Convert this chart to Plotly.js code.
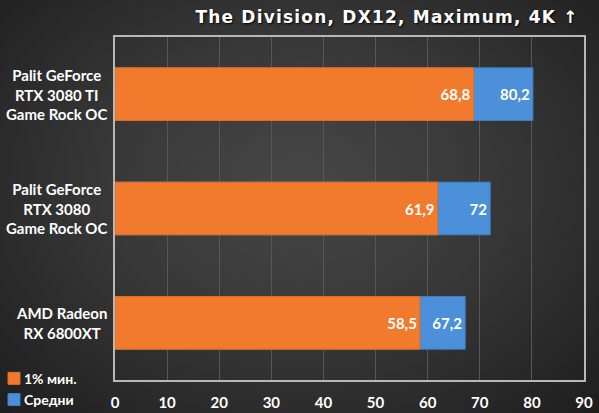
<!DOCTYPE html>
<html>
<head>
<meta charset="utf-8">
<script src="https://cdn.plot.ly/plotly-3.0.1.min.js"></script>
<style>
  html, body { margin: 0; padding: 0; }
  #chart {
    width: 599px; height: 413px;
    background: radial-gradient(ellipse at 50% 45%, #474747 0%, #383838 45%, #1e1e1e 100%);
  }
  #chart .gtitle { letter-spacing: 1.2px; }
  #chart .legend .legendtext { transform: translate(-16px, 4px); }
  #chart .legend .legendsymbols { transform: translate(-6px, 4px); }
</style>
</head>
<body>
<div id="chart"></div>
<script>
const categories = ['Palit GeForce<br>RTX 3080 TI<br>Game Rock OC', 'Palit GeForce<br>RTX 3080<br>Game Rock OC', 'AMD Radeon<br>RX 6800XT'];
const minValues = [68.8, 61.9, 58.5];
const avgValues = [80.2, 72, 67.2];
const seriesNames = ['1% мин.', 'Средни'];
const xTicks = [0, 10, 20, 30, 40, 50, 60, 70, 80, 90];
const chartTitle = 'The Division, DX12, Maximum, 4K ↑';

const fmt = v => String(v).replace('.', ',');
const fam = 'Lato, "Open Sans", sans-serif';
const labelFont = { family: fam, size: 15, color: '#ffffff', weight: 'bold' };

const traces = [
  {
    type: 'bar', orientation: 'h', name: seriesNames[1],
    y: categories, x: avgValues,
    text: avgValues.map(fmt), textposition: 'inside', insidetextanchor: 'end',
    textfont: labelFont,
    marker: { color: '#4b90d8', line: { color: '#3f7fc4', width: 1 } },
    width: 0.46, hoverinfo: 'none'
  },
  {
    type: 'bar', orientation: 'h', name: seriesNames[0],
    y: categories, x: minValues,
    text: minValues.map(fmt), textposition: 'inside', insidetextanchor: 'end',
    textfont: labelFont,
    marker: { color: '#f17a2c', line: { color: '#e06d20', width: 1 } },
    width: 0.46, hoverinfo: 'none'
  }
];

const annotations = categories.map(c => ({
  xref: 'paper', yref: 'y', x: -0.013, y: c, xanchor: 'right', yanchor: 'middle',
  text: c, showarrow: false, align: 'center',
  font: { family: fam, size: 15, color: '#ffffff', weight: 'bold' }
}));

const layout = {
  width: 599, height: 413,
  paper_bgcolor: 'rgba(0,0,0,0)', plot_bgcolor: 'rgba(0,0,0,0)',
  margin: { l: 115, r: 15, t: 37, b: 33 },
  barmode: 'overlay',
  title: {
    text: '<b>' + chartTitle + '</b>',
    x: 0.966, xanchor: 'right', xref: 'container',
    y: 0.958, yanchor: 'middle', yref: 'container',
    font: { family: '"DejaVu Sans", Verdana, sans-serif', size: 17, color: '#ffffff', shadow: '1px 1px 2px #000000' }
  },
  xaxis: {
    range: [0, 90], tickvals: xTicks, ticktext: xTicks.map(String),
    showgrid: true, gridcolor: '#575757', gridwidth: 1,
    zeroline: false, showline: true, mirror: true, linecolor: '#b8b8b8', linewidth: 2,
    ticks: 'outside', ticklen: 8, tickcolor: 'rgba(0,0,0,0)',
    tickfont: { family: fam, size: 15, color: '#ffffff', weight: 'bold' },
    fixedrange: true
  },
  yaxis: {
    type: 'category', autorange: 'reversed', showticklabels: false,
    showgrid: false, zeroline: false, showline: true, mirror: true, linecolor: '#b8b8b8', linewidth: 2,
    fixedrange: true
  },
  showlegend: true,
  legend: {
    x: 0, y: 0.003, xref: 'container', yref: 'container', xanchor: 'left', yanchor: 'bottom',
    traceorder: 'reversed', bgcolor: 'rgba(0,0,0,0)',
    font: { family: fam, size: 14, color: '#ffffff', weight: 'bold' },
    itemwidth: 30, tracegroupgap: 0
  },
  annotations: annotations
};

Plotly.newPlot('chart', traces, layout, { displayModeBar: false, staticPlot: true });
</script>
</body>
</html>
